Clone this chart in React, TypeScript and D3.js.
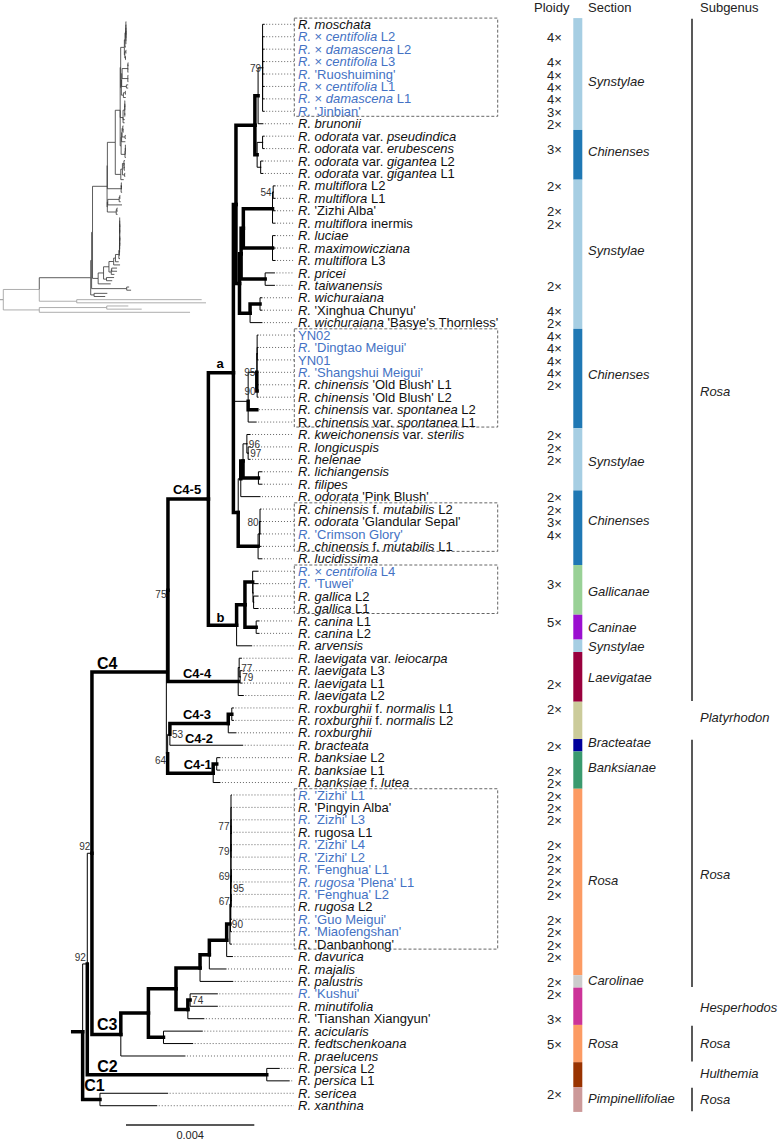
import React, { useEffect } from "react";
import * as d3 from "d3";

// ---------------- DATA ----------------
// Leaf labels (top to bottom). Text between underscores is italic.
const LEAVES: string[] = [
  "_R. moschata_",
  "_R._ × _centifolia_ L2",
  "_R._ × _damascena_ L2",
  "_R._ × _centifolia_ L3",
  "_R._ 'Ruoshuiming'",
  "_R._ × _centifolia_ L1",
  "_R._ × _damascena_ L1",
  "_R._ 'Jinbian'",
  "_R. brunonii_",
  "_R. odorata_ var. _pseudindica_",
  "_R. odorata_ var. _erubescens_",
  "_R. odorata_ var. _gigantea_ L2",
  "_R. odorata_ var. _gigantea_ L1",
  "_R. multiflora_ L2",
  "_R. multiflora_ L1",
  "_R._ 'Zizhi Alba'",
  "_R. multiflora_ inermis",
  "_R. luciae_",
  "_R. maximowicziana_",
  "_R. multiflora_ L3",
  "_R. pricei_",
  "_R. taiwanensis_",
  "_R. wichuraiana_",
  "_R._ 'Xinghua Chunyu'",
  "_R. wichuraiana_ 'Basye's Thornless'",
  "YN02",
  "_R._ 'Dingtao Meigui'",
  "YN01",
  "_R._ 'Shangshui Meigui'",
  "_R. chinensis_ 'Old Blush' L1",
  "_R. chinensis_ 'Old Blush' L2",
  "_R. chinensis_ var. _spontanea_ L2",
  "R. _chinensis_ var. _spontanea_ L1",
  "_R. kweichonensis_ var. _sterilis_",
  "_R. longicuspis_",
  "_R. helenae_",
  "_R. lichiangensis_",
  "_R. filipes_",
  "_R. odorata_ 'Pink Blush'",
  "_R. chinensis_ f. _mutabilis_ L2",
  "_R. odorata_ 'Glandular Sepal'",
  "_R._ 'Crimson Glory'",
  "_R. chinensis_ f. _mutabilis_ L1",
  "_R. lucidissima_",
  "_R._ × _centifolia_ L4",
  "_R._ 'Tuwei'",
  "_R. gallica_ L2",
  "_R. gallica_ L1",
  "_R. canina_ L1",
  "_R. canina_ L2",
  "_R. arvensis_",
  "_R. laevigata_ var. _leiocarpa_",
  "_R. laevigata_ L3",
  "_R. laevigata_ L1",
  "_R. laevigata_ L2",
  "_R. roxburghii_ f. _normalis_ L1",
  "_R. roxburghii_ f. _normalis_ L2",
  "_R. roxburghii_",
  "_R. bracteata_",
  "_R. banksiae_ L2",
  "_R. banksiae_ L1",
  "_R. banksiae_ f. _lutea_",
  "_R._ 'Zizhi' L1",
  "_R._ 'Pingyin Alba'",
  "_R._ 'Zizhi' L3",
  "_R._ rugosa L1",
  "_R._ 'Zizhi' L4",
  "_R._ 'Zizhi' L2",
  "_R._ 'Fenghua' L1",
  "_R. rugosa_ 'Plena' L1",
  "_R._ 'Fenghua' L2",
  "_R. rugosa_ L2",
  "_R._ 'Guo Meigui'",
  "_R._ 'Miaofengshan'",
  "_R._ 'Danbanhong'",
  "_R. davurica_",
  "_R. majalis_",
  "_R. palustris_",
  "_R._ 'Kushui'",
  "_R. minutifolia_",
  "_R._ 'Tianshan Xiangyun'",
  "_R. acicularis_",
  "_R. fedtschenkoana_",
  "_R. praelucens_",
  "_R. persica_ L2",
  "_R. persica_ L1",
  "_R. sericea_",
  "_R. xanthina_",
];

// Leaves drawn in blue (newly sequenced samples)
const HIGHLIGHTED: number[] = [1, 2, 3, 4, 5, 6, 7, 25, 26, 27, 28, 41, 44, 45, 62, 64, 66, 67, 68, 69, 70, 72, 73, 78];

// Tree: leaves are row indices; value after ":" = root-to-node distance (x 1e-4 subst./site);
// "*" = strongly supported (thick) branch; [..] = support value (">" = right of node) or clade name.
const TREE = `
(
 (
  (
   (
    (
     (
      (
       (
        (
         (
          (0:59.7,1:59.7,2:59.7,3:59.7,4:59.7,5:59.7,6:59.7,7:59.7)[79]:59.2,
          8:59.3
         ):57.8*,
         ((9:59.7,10:59.7):59.2,(11:59.3,12:59.3):58.6):57.5*
        ):56.8*,
        (
         (
          (((13:63.1,14:63.1)[54]:62.5,15:63.1,16:63.1):62.3*,(17:63.1,18:63.1,19:63.1):62.3*):53.2*,
          (20:62.9,21:62.9):60.0*
         ):52.5*,
         ((22:59.0,23:59.0):58.4*,24:59.0):55.3*
        ):52.0*
       ):50.9*,
       (
        ((25:57.8,26:57.8,27:57.8,28:57.8):57.5,(29:57.8,30:57.8)[90]:57.5*)[95]:57.4,
        31:57.4*,
        32:57.2
       ):54.7,
       (
        (
         ((33:55.3,(34:55.3,35:55.3)[>97]:54.7)[>96]:54.3,(36:59.0,37:59.0):57.9*):53.1*,
         38:58.4
        ):52.4,
        (((39:58.7,40:58.7,41:58.7)[80]:58.4,42:58.7):58.2,43:59.0):57.8*
       ):51.6*
      )[a]:50.1*,
      (
       (
        (44:57.8,(45:57.8,(46:57.8,47:57.8):56.4):56.2):56.1*,
        (48:58.1,49:58.1):57.2*
       ):53.7*,
       50:55.8
      )[b]:51.1*
     )[C4-5]:42.3*,
     ((51:52.6,(52:52.8,53:52.8)[>79]:52.2)[>77]:51.9,54:53.2)[C4-4]:51.6*
    )[75]:29.7,
    (
     (
      ((55:50.1,56:50.1):49.6*,57:50.9)[C4-3]:48.5*,
      58[C4-2]:53.0
     )[>53]:30.3,
     ((59:45.9,60:45.9):44.9*,61:45.9)[C4-1]:43.8*
    )[64]:29.6
   )[C4]:29.2*,
   (
    (
     (
      (
       (
        (
         (
          (
           (
            (
             62:49.5,63:49.5,
             (64:49.5,65:49.5)[77]:49.35,
             (66:49.5,67:49.5)[79]:49.35,
             ((68:49.5,69:49.5)[69]:49.45,(70:49.5,71:49.5)[67]:49.45)[>95]:49.35
            ):49.35,
            72:49.5
           ):49.3,
           73:49.5
          ):49.2,
          74:49.5
         )[>90]:49.0*,
         75:49.8
        ):48.0*,
        76:47.8
       ):42.6*,
       77:49.9
      ):39.7*,
      ((78:45.1,79:45.1)[>74]:36.6*,80:40.9):35.9*
     ):32.2*,
     (81:40.4,82:37.4):28.3*
    ):23.6*,
    83:35.0
   )[C3]:15.0*
  )[92]:6.0,
  (84:64.4,85:67.5)[C2]:60.5*
 )[92]:4.55,
 (86:29.6,87:26.2)[C1]:8.5*
):3.1
`;

// Overview inset: outgroups around the ingroup (I); same distance units.
const INSET_TREE = `((I:139.4,(o1:316.4,o2:323.3):117.1):57.4,((o3:199.4,o4:220.7):165,o5:297.8):57.4):0`;

// Dashed boxes around groups of leaves [first, last]
const BOXES: [number, number][] = [[0, 7], [25, 32], [39, 42], [44, 47], [62, 74]];

// Ploidy: [leaf row, level]
const PLOIDY: [number, string][] = [
  [1, "4×"], [3, "4×"], [4, "4×"], [5, "4×"], [6, "4×"], [7, "3×"], [8, "2×"], [10, "3×"],
  [13, "2×"], [15, "2×"], [16, "2×"], [21, "2×"], [23, "4×"], [24, "2×"],
  [25, "4×"], [26, "4×"], [27, "4×"], [28, "4×"], [29, "2×"],
  [33, "2×"], [34, "2×"], [35, "2×"], [38, "2×"], [39, "2×"], [40, "3×"], [41, "4×"],
  [45, "3×"], [48, "5×"], [53, "2×"], [55, "2×"], [58, "2×"], [60, "2×"], [61, "2×"],
  [62, "2×"], [63, "2×"], [64, "2×"], [66, "2×"], [67, "2×"], [68, "2×"], [69, "2×"], [70, "2×"],
  [72, "2×"], [73, "2×"], [74, "2×"], [75, "2×"], [77, "2×"], [78, "2×"], [80, "3×"],
  [82, "5×"], [86, "2×"],
];

// Sections: leaf rows covered, colour, label row ("" = unlabeled)
const SECTION_NAMES = ["Synstylae", "Chinenses", "Synstylae", "Chinenses", "Synstylae", "Chinenses", "Gallicanae", "Caninae", "Synstylae", "Laevigatae", "", "Bracteatae", "Banksianae", "Rosa", "Carolinae", "", "Rosa", "", "Pimpinellifoliae"];
const SECTION_FIRST = [0, 9, 13, 25, 33, 38, 44, 48, 50, 51, 55, 58, 59, 62, 77, 78, 81, 84, 86];
const SECTION_LAST = [8, 12, 24, 32, 37, 43, 47, 49, 50, 54, 57, 58, 61, 76, 77, 80, 83, 85, 87];
const SECTION_COLORS = ["#a6cee3", "#1f78b4", "#a6cee3", "#1f78b4", "#a6cee3", "#1f78b4", "#99d196", "#9b0fd0", "#a6cee3", "#99003d", "#cbcb9a", "#00009c", "#3a9a6e", "#fc9b63", "#cccccc", "#cc3399", "#fc9b63", "#993300", "#cc9999"];
const SECTION_LABEL_ROW = [4.6, 10.25, 18.2, 28.15, 35.2, 39.9, 45.6, 48.5, 50.05, 52.55, 0, 57.8, 59.8, 68.9, 76.95, 0, 82, 0, 86.45];

// Subgenera: name, rows, bracket line?, label row
const SUBGENUS_NAMES = ["Rosa", "Platyrhodon", "Rosa", "Hesperhodos", "Rosa", "Hulthemia", "Rosa"];
const SUBGENUS_FIRST = [0, 55, 58, 78, 81, 84, 86];
const SUBGENUS_LAST = [54, 57, 77, 80, 83, 85, 87];
const SUBGENUS_LINE = [true, false, true, false, true, false, true];
const SUBGENUS_LABEL_ROW = [29.5, 55.8, 68.4, 79.1, 82, 84.4, 86.5];

const HEADERS = ["Ploidy", "Section", "Subgenus"];
const SCALE_BAR = { value: 0.004, label: "0.004" };
const DIST_UNIT = 1e-4;

// ---------------- PARSER ----------------
type TNode = { name?: string; label?: string; depth: number; thick: boolean; children: TNode[] };

function parseTree(src: string): TNode {
  const s = src.replace(/\s+/g, "");
  let i = 0;
  function node(): TNode {
    const n: TNode = { depth: 0, thick: false, children: [] };
    if (s[i] === "(") {
      i++;
      for (;;) {
        n.children.push(node());
        if (s[i] === ",") { i++; continue; }
        i++; // ')'
        break;
      }
    } else {
      let m = "";
      while (i < s.length && !",()[]:*".includes(s[i])) m += s[i++];
      n.name = m;
    }
    if (s[i] === "[") { const j = s.indexOf("]", i); n.label = s.slice(i + 1, j); i = j + 1; }
    if (s[i] === ":") { i++; let m = ""; while (i < s.length && /[0-9.\-]/.test(s[i])) m += s[i++]; n.depth = +m; }
    if (s[i] === "*") { n.thick = true; i++; }
    return n;
  }
  return node();
}

function rich(text: string) {
  return text.split("_").map((p, k) =>
    p ? <tspan key={k} fontStyle={k % 2 === 1 ? "italic" : "normal"}>{p}</tspan> : null
  );
}

const FONT = "'Liberation Sans', Arial, Helvetica, sans-serif";

// label placement (style)
const CLADE_DX: Record<string, number> = { C4: 5, C3: 5, C2: 10, C1: 1.5, "C4-5": 5, "C4-4": 15, "C4-3": 13, "C4-2": 15, "C4-1": 16, a: 8, b: 8 };
const CLADE_DY: Record<string, number> = { C4: -3, C3: -5, C2: -3, C1: -8, "C4-5": -5, "C4-4": -4, "C4-3": -4, "C4-2": -2, "C4-1": -4, a: -5, b: -3 };
const SUPPORT_DY: Record<string, number> = { "92": -3, "64": 10.5, "75": 7.5 };

export default function App() {
  useEffect(() => { document.body.style.margin = "0"; }, []);

  const W = 779, H = 1143;
  const x = d3.scaleLinear().domain([0, SCALE_BAR.value]).range([72.7, 72.7 + 128.3]);
  const y = d3.scaleLinear().domain([0, LEAVES.length - 1]).range([24.3, 24.3 + (LEAVES.length - 1) * 12.43]);
  const half = (y(1) - y(0)) / 2;

  // ---- main tree ----
  const root: any = d3.hierarchy(parseTree(TREE), (d: TNode) => (d.children.length ? d.children : null));
  root.eachAfter((n: any) => {
    n.px = x(n.data.depth * DIST_UNIT);
    n.py = n.children ? d3.mean(n.children, (c: any) => c.py) : y(+n.data.name);
  });
  const nodes: any[] = root.descendants();
  const edges = nodes.filter((n) => n.parent);
  const thin = edges.filter((n) => !n.data.thick);
  const thick = edges.filter((n) => n.data.thick);
  const leaves: any[] = root.leaves();
  const labelX = 298;
  const dotEnd = 294;

  const edgePath = (n: any) => `M${n.parent.px},${n.parent.py}V${n.py}H${n.px}`;

  // ---- inset tree ----
  const insetTree = parseTree(INSET_TREE);
  const ingroupCopy = parseTree(TREE);
  const attach = (t: TNode) => {
    t.children = t.children.map((c) => {
      if (c.name === "I") {
        const off = c.depth - ingroupCopy.depth;
        const shift = (m: TNode) => { m.depth += off; m.children.forEach(shift); };
        shift(ingroupCopy);
        (ingroupCopy as any).ingroup = true;
        return ingroupCopy;
      }
      attach(c);
      return c;
    });
  };
  attach(insetTree);
  const iroot: any = d3.hierarchy(insetTree, (d: TNode) => (d.children.length ? d.children : null));
  const ix = d3.scaleLinear().domain([0, SCALE_BAR.value]).range([3.3, 3.3 + 25.08]);
  const ileaves = iroot.leaves();
  const iy = d3.scaleLinear().domain([0, ileaves.length - 1]).range([21.7, 312.3]);
  ileaves.forEach((l: any, k: number) => (l.py = iy(k)));
  iroot.eachAfter((n: any) => {
    n.px = ix(n.data.depth * DIST_UNIT);
    if (n.children) n.py = d3.mean(n.children, (c: any) => c.py);
  });
  iroot.each((n: any) => {
    n.inIngroup = (n.parent && n.parent.inIngroup) || (n.data as any).ingroup;
  });
  const iedges = iroot.descendants().filter((n: any) => n.parent);

  return (
    <svg width={W} height={H} style={{ position: "absolute", left: 0, top: 0, background: "#fff" }} fontFamily={FONT}>
      <rect width={W} height={H} fill="#fff" />

      {/* inset overview */}
      <g fill="none" strokeWidth={0.8}>
        <line x1={0} x2={iroot.px} y1={iroot.py} y2={iroot.py} stroke="#777" />
        {iedges.map((n: any, k: number) => (
          <path key={k} d={`M${n.parent.px},${n.parent.py}V${n.py}H${n.px}`} stroke={n.inIngroup ? "#333" : "#999"} />
        ))}
      </g>

      {/* dotted leaders */}
      <g stroke="#555" strokeWidth={0.9} strokeDasharray="1,2">
        {leaves.map((l: any, k: number) => (
          <line key={k} x1={l.px + 2} x2={dotEnd} y1={l.py} y2={l.py} />
        ))}
      </g>

      {/* dashed boxes */}
      <g fill="none" stroke="#555" strokeWidth={0.9} strokeDasharray="3,2">
        {BOXES.map(([a, b], k) => (
          <rect key={k} x={294.3} y={y(a) - half} width={497.7 - 294.3} height={y(b) - y(a) + half + 5} />
        ))}
      </g>

      {/* tree branches */}
      <g fill="none" stroke="#000" strokeLinecap="square">
        <line x1={x(0)} x2={root.px} y1={root.py} y2={root.py} strokeWidth={3.5} />
        {thin.map((n, k) => <path key={k} d={edgePath(n)} strokeWidth={1} />)}
        {thick.map((n, k) => <path key={k} d={edgePath(n)} strokeWidth={3.5} />)}
      </g>

      {/* support values & clade names */}
      {nodes.filter((n) => n.data.label).map((n, k) => {
        const lab: string = n.data.label;
        if (/^>?\d+$/.test(lab)) {
          const right = lab.startsWith(">");
          const txt = lab.replace(">", "");
          const dy = right ? 4 : SUPPORT_DY[txt] ?? 4;
          return (
            <text key={k} x={right ? n.px + 2 : n.px - 1.5} y={n.py + dy} fontSize={10} fill="#333" textAnchor={right ? "start" : "end"}>
              {txt}
            </text>
          );
        }
        const big = /^C\d$/.test(lab);
        return (
          <text key={k} x={n.parent.px + (CLADE_DX[lab] ?? 5)} y={n.py + (CLADE_DY[lab] ?? -4)} fontSize={big ? 16 : 13} fontWeight="bold" fill="#000">
            {lab}
          </text>
        );
      })}

      {/* leaf labels */}
      <g fontSize={13} style={{ whiteSpace: "pre" }}>
        {LEAVES.map((t, k) => (
          <text key={k} x={labelX} y={y(k) + 4.6} fill={HIGHLIGHTED.includes(k) ? "#4472c4" : "#111"}>
            {rich(t)}
          </text>
        ))}
      </g>

      {/* headers */}
      <g fontSize={13} fill="#222">
        <text x={534} y={12}>{HEADERS[0]}</text>
        <text x={588} y={12}>{HEADERS[1]}</text>
        <text x={700} y={12}>{HEADERS[2]}</text>
      </g>

      {/* ploidy */}
      <g fontSize={13} fill="#222">
        {PLOIDY.map(([r, t], k) => (
          <text key={k} x={547} y={y(r) + 5.6}>{t}</text>
        ))}
      </g>

      {/* sections */}
      {SECTION_NAMES.map((nm, k) => (
        <g key={k}>
          <rect x={573.3} width={9} y={y(SECTION_FIRST[k]) - half} height={y(SECTION_LAST[k]) - y(SECTION_FIRST[k]) + 2 * half} fill={SECTION_COLORS[k]} />
          {nm && (
            <text x={588} y={y(SECTION_LABEL_ROW[k]) + 4.6} fontSize={13} fontStyle="italic" fill="#222">{nm}</text>
          )}
        </g>
      ))}

      {/* subgenera */}
      {SUBGENUS_NAMES.map((nm, k) => (
        <g key={k}>
          {SUBGENUS_LINE[k] && (
            <line x1={692} x2={692} y1={y(SUBGENUS_FIRST[k]) - 5.5} y2={y(SUBGENUS_LAST[k]) + 5.5} stroke="#222" strokeWidth={1.5} />
          )}
          <text x={700} y={y(SUBGENUS_LABEL_ROW[k]) + 4.6} fontSize={13} fontStyle="italic" fill="#222">{nm}</text>
        </g>
      ))}

      {/* scale bar */}
      <line x1={126} x2={126 + x(SCALE_BAR.value) - x(0)} y1={1125} y2={1125} stroke="#222" strokeWidth={1.3} />
      <text x={126 + (x(SCALE_BAR.value) - x(0)) / 2} y={1139} fontSize={11} textAnchor="middle" fill="#222">{SCALE_BAR.label}</text>
    </svg>
  );
}
